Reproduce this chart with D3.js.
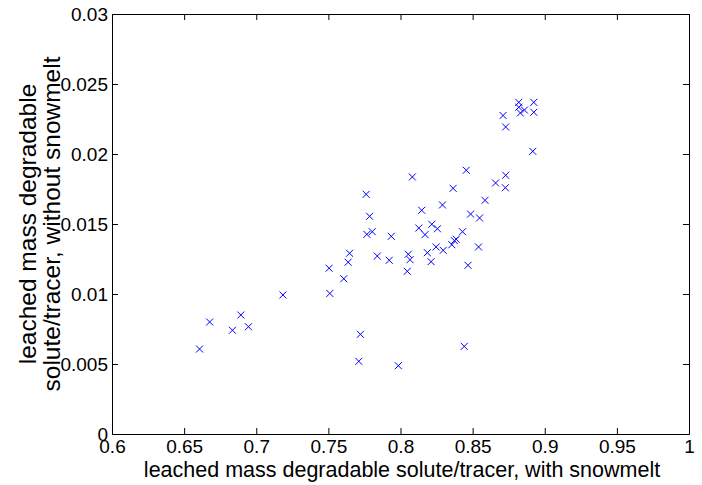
<!DOCTYPE html>
<html><head><meta charset="utf-8">
<script src="https://cdn.jsdelivr.net/npm/d3@7"></script>
<style>body{margin:0;background:#fff;} text{font-family:Arial,"Liberation Sans",sans-serif;}</style>
</head><body>
<svg id="c" width="702" height="485"></svg>
<script>
const withSnowmelt = [0.6607,0.6677,0.6835,0.6893,0.6946,0.7185,0.7505,0.7510,0.7607,0.7637,0.7647,0.7722,0.7711,0.7762,0.7786,0.7767,0.7804,0.7839,0.7922,0.7936,0.7985,0.8082,0.8054,0.8066,0.8047,0.8147,0.8127,0.8170,0.8217,0.8256,0.8186,0.8212,0.8247,0.8296,0.8291,0.8365,0.8356,0.8374,0.8386,0.8430,0.8456,0.8442,0.8468,0.8486,0.8541,0.8548,0.8586,0.8659,0.8729,0.8727,0.8711,0.8729,0.8820,0.8820,0.8831,0.8859,0.8924,0.8924,0.8917];
const withoutSnowmelt = [0.00607,0.0080,0.00741,0.0085,0.00766,0.00993,0.01184,0.01004,0.01109,0.01227,0.01291,0.00712,0.00519,0.01712,0.01555,0.01426,0.01445,0.01271,0.01241,0.01412,0.00488,0.01836,0.01284,0.01245,0.01162,0.01598,0.01471,0.01424,0.01498,0.01466,0.01295,0.01231,0.01336,0.01312,0.01636,0.01755,0.01352,0.01381,0.01391,0.01445,0.01884,0.00626,0.01205,0.01571,0.01336,0.01543,0.01669,0.01793,0.01848,0.01759,0.02275,0.02193,0.02369,0.02334,0.02293,0.02314,0.02369,0.02298,0.02019];
const xTicks = [0.6,0.65,0.7,0.75,0.8,0.85,0.9,0.95,1];
const yTicks = [0,0.005,0.01,0.015,0.02,0.025,0.03];
const xLabel = "leached mass degradable solute/tracer, with snowmelt";
const yLabelLines = ["leached mass degradable","solute/tracer, without snowmelt"];

const L=112, R=689, T=14, B=434;
const svg = d3.select("#c");
const x = d3.scaleLinear().domain([0.6,1]).range([L,R]);
const y = d3.scaleLinear().domain([0,0.03]).range([B,T]);
const fmt = d => String(+d.toFixed(4));
const fs = 19;

// axes
const xb = svg.append("g").attr("transform",`translate(0,${B})`)
  .call(d3.axisBottom(x).tickValues(xTicks).tickSizeInner(-6).tickSizeOuter(0).tickPadding(6).tickFormat(fmt));
const xt = svg.append("g").attr("transform",`translate(0,${T})`)
  .call(d3.axisTop(x).tickValues(xTicks).tickSizeInner(-6).tickSizeOuter(0).tickFormat(""));
const yl = svg.append("g").attr("transform",`translate(${L},0)`)
  .call(d3.axisLeft(y).tickValues(yTicks).tickSizeInner(-6).tickSizeOuter(0).tickPadding(4).tickFormat(fmt));
const yr = svg.append("g").attr("transform",`translate(${R},0)`)
  .call(d3.axisRight(y).tickValues(yTicks).tickSizeInner(-6).tickSizeOuter(0).tickFormat(""));
[xb,xt,yl,yr].forEach(g=>{
  g.selectAll("path").attr("stroke","#000").attr("stroke-width",1);
  g.selectAll("line").attr("stroke","#000");
  g.selectAll("text").attr("font-size",fs).attr("fill","#000").attr("font-family","Arial, 'Liberation Sans', sans-serif");
});

// markers
const s = 3.5;
const pts = withSnowmelt.map((v,i)=>[v, withoutSnowmelt[i]]);
const mk = svg.append("g").attr("stroke","#0000ff").attr("stroke-width",1).attr("fill","none");
mk.selectAll("path").data(pts).enter().append("path")
  .attr("d", d=>{const cx=x(d[0]), cy=y(d[1]);
    return `M${cx-s},${cy-s}L${cx+s},${cy+s}M${cx-s},${cy+s}L${cx+s},${cy-s}`;});

// labels
svg.append("text").attr("x",402).attr("y",477).attr("text-anchor","middle")
  .attr("font-size",21.5).text(xLabel);
const yt = svg.append("text").attr("transform",`translate(0,${(T+B)/2}) rotate(-90)`)
  .attr("text-anchor","middle").attr("font-size",24.5);
yt.append("tspan").attr("x",0).attr("y",36).text(yLabelLines[0]);
yt.append("tspan").attr("x",0).attr("y",60).text(yLabelLines[1]);
</script>
</body></html>
